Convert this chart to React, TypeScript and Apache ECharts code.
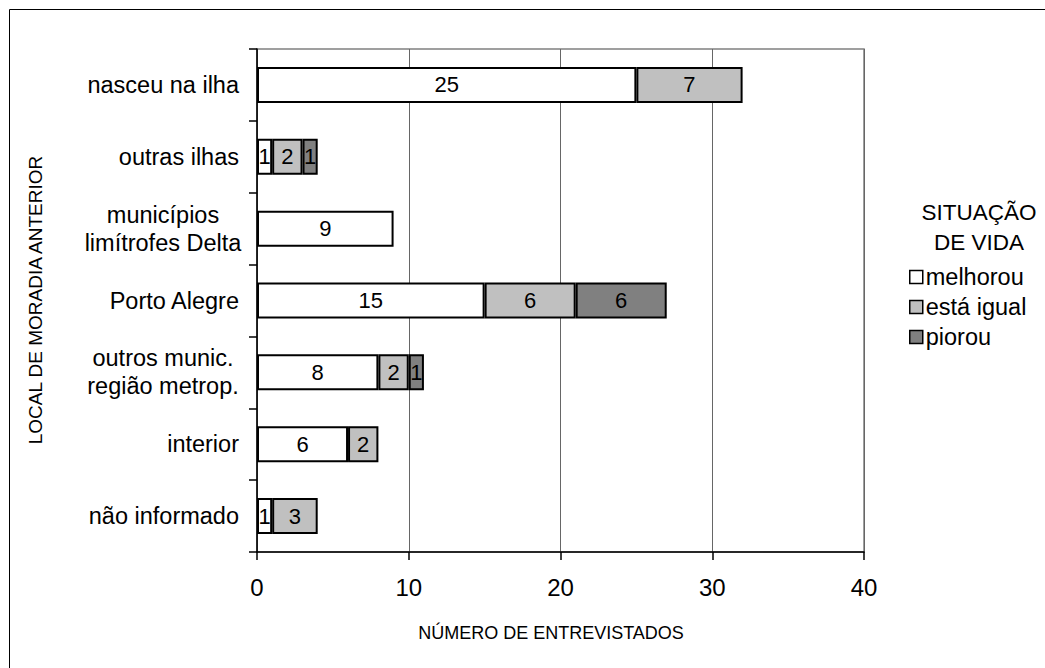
import React, { useEffect, useRef } from "react";
import * as echarts from "echarts";

const categories = [
  "nasceu na ilha",
  "outras ilhas",
  "municípios\nlimítrofes Delta",
  "Porto Alegre",
  "outros munic.\nregião metrop.",
  "interior",
  "não informado",
];
const melhorou = [25, 1, 9, 15, 8, 6, 1];
const estaIgual = [7, 2, null, 6, 2, 2, 3];
const piorou = [null, 1, null, 6, 1, null, null];
const xTicks = [0, 10, 20, 30, 40];
const seriesNames = ["melhorou", "está igual", "piorou"];
const seriesColors = ["#ffffff", "#c0c0c0", "#808080"];

const FONT = "'Liberation Sans', Arial, sans-serif";

export default function App() {
  const ref = useRef<HTMLDivElement>(null);
  useEffect(() => {
    document.body.style.margin = "0";
    const chart = echarts.init(ref.current!, null, { renderer: "svg" });
    const data = [melhorou, estaIgual, piorou];
    const option: any = {
      animation: false,
      backgroundColor: "#ffffff",
      textStyle: { fontFamily: FONT },
      grid: {
        left: 257,
        top: 49,
        width: 607,
        height: 503,
        show: true,
        borderColor: "#808080",
        borderWidth: 1.5,
        containLabel: false,
      },
      xAxis: {
        type: "value",
        min: xTicks[0],
        max: xTicks[xTicks.length - 1],
        interval: 10,
        axisLine: { show: true, lineStyle: { color: "#000", width: 1.5 } },
        axisTick: { show: true, length: 8, lineStyle: { color: "#000", width: 1.5 } },
        axisLabel: { color: "#000", fontSize: 24, margin: 23, fontFamily: FONT },
        splitLine: { show: true, lineStyle: { color: "#666", width: 1 } },
      },
      yAxis: {
        type: "category",
        data: categories,
        inverse: true,
        axisLine: { show: true, lineStyle: { color: "#000", width: 1.5 } },
        axisTick: { show: true, length: 8, lineStyle: { color: "#000", width: 1.5 } },
        axisLabel: {
          color: "#000",
          fontSize: 23.5,
          margin: 18,
          fontFamily: FONT,
          lineHeight: 28,
          formatter: (v: string) =>
            v.indexOf("\n") >= 0
              ? v
                  .split("\n")
                  .map((s) => "{m|" + s + "}")
                  .join("\n")
              : v,
          rich: {
            m: {
              width: 152,
              align: "center",
              fontSize: 23.5,
              lineHeight: 28,
              color: "#000",
              fontFamily: FONT,
            },
          },
        },
        splitLine: { show: false },
      },
      legend: {
        orient: "vertical",
        left: 904,
        top: 260,
        itemWidth: 13,
        itemHeight: 13,
        itemGap: 6,
        icon: "rect",
        data: seriesNames,
        itemStyle: { borderColor: "#000", borderWidth: 1.5 },
        textStyle: { color: "#000", fontSize: 23.5, fontFamily: FONT, padding: [0, 0, 0, -2] },
      },
      graphic: [
        {
          type: "rect",
          shape: { x: 9.5, y: 9.5, width: 1100, height: 700 },
          style: { fill: "none", stroke: "#000", lineWidth: 1 },
          silent: true,
        },
        {
          type: "text",
          x: 979,
          y: 227,
          style: {
            text: "SITUAÇÃO\nDE VIDA",
            fontSize: 22.5,
            lineHeight: 30,
            fontFamily: FONT,
            fill: "#000",
            align: "center",
            verticalAlign: "middle",
          },
        },
        {
          type: "text",
          x: 551,
          y: 633,
          style: {
            text: "NÚMERO DE ENTREVISTADOS",
            fontSize: 18,
            fontFamily: FONT,
            fill: "#000",
            align: "center",
            verticalAlign: "middle",
          },
        },
        {
          type: "text",
          x: 35,
          y: 300,
          rotation: Math.PI / 2,
          style: {
            text: "LOCAL DE MORADIA ANTERIOR",
            fontSize: 19,
            fontFamily: FONT,
            fill: "#000",
            align: "center",
            verticalAlign: "middle",
          },
        },
      ],
      series: seriesNames.map((name, i) => ({
        name,
        type: "bar",
        stack: "total",
        barWidth: 36,
        data: data[i],
        itemStyle: { color: seriesColors[i], borderColor: "#000", borderWidth: 2 },
        label: {
          show: true,
          position: "inside",
          color: "#000",
          fontSize: 22,
          fontFamily: FONT,
          formatter: (p: any) => (p.value ? String(p.value) : ""),
        },
      })),
    };
    chart.setOption(option);
    return () => chart.dispose();
  }, []);
  return <div ref={ref} style={{ width: 1045, height: 668 }} />;
}
